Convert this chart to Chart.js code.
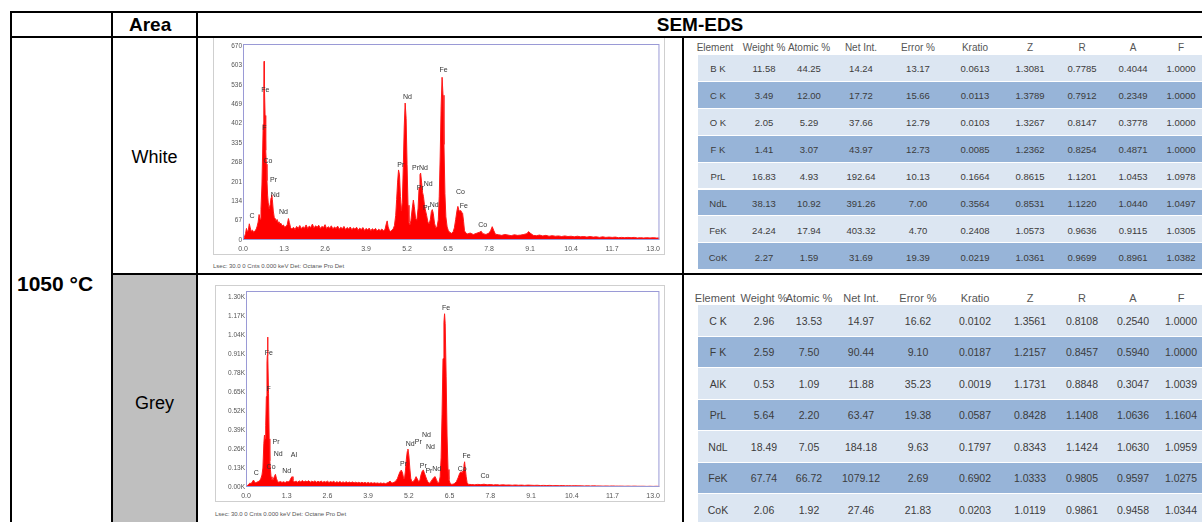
<!DOCTYPE html>
<html>
<head>
<meta charset="utf-8">
<script src="https://cdn.jsdelivr.net/npm/chart.js@4.4.1/dist/chart.umd.min.js"></script>
<style>
body { margin:0; width:1202px; height:522px; overflow:hidden; background:#fff; font-family:'Liberation Sans', Arial, sans-serif; position:relative; }
.ln { position:absolute; background:#000; z-index:5; }
.txt { position:absolute; white-space:nowrap; color:#000; }
.frame { position:absolute; border:1px solid #cfcfcf; box-sizing:border-box; background:#fff; }
canvas { position:absolute; z-index:2; }
.band { position:absolute; }
.cell { position:absolute; transform:translate(-50%,-50%); white-space:nowrap; color:#3c3c3c; z-index:3; }
.lsec { position:absolute; font-size:6px; color:#555; white-space:nowrap; }
</style>
</head>
<body>

<div class="ln" style="left:10px;top:11px;width:1192px;height:2px"></div>
<div class="ln" style="left:10px;top:36px;width:1192px;height:2px"></div>
<div class="ln" style="left:111px;top:273px;width:1091px;height:2px"></div>
<div class="ln" style="left:10px;top:11px;width:2px;height:511px"></div>
<div class="ln" style="left:111px;top:11px;width:2px;height:511px"></div>
<div class="ln" style="left:196px;top:11px;width:2px;height:511px"></div>
<div class="ln" style="left:682px;top:37px;width:2px;height:485px"></div>
<div style="position:absolute;left:113px;top:275px;width:83px;height:247px;background:#bfbfbf"></div>

<div class="txt" style="left:129px;top:14px;font:bold 19px/22px 'Liberation Sans', Arial">Area</div>
<div class="txt" style="left:198px;top:14px;width:1004px;text-align:center;font:bold 19px/22px 'Liberation Sans', Arial">SEM-EDS</div>
<div class="txt" style="left:113px;top:146px;width:83px;text-align:center;font:18px/22px 'Liberation Sans', Arial">White</div>
<div class="txt" style="left:113px;top:392px;width:83px;text-align:center;font:18px/22px 'Liberation Sans', Arial">Grey</div>
<div class="txt" style="left:17px;top:272px;font:bold 21px/24px 'Liberation Sans', Arial">1050 °C</div>

<div class="frame" style="left:213px;top:37px;width:452px;height:218px"></div>
<canvas id="whiteChart" width="452" height="217" style="left:213px;top:38px"></canvas>
<div class="lsec" style="left:213px;top:263px">Lsec: 30.0 0 Cnts 0.000 keV Det: Octane Pro Det</div>

<div class="frame" style="left:215px;top:285px;width:450px;height:217px"></div>
<canvas id="greyChart" width="450" height="217" style="left:215px;top:285px"></canvas>
<div class="lsec" style="left:215px;top:511px">Lsec: 30.0 0 Cnts 0.000 keV Det: Octane Pro Det</div>

<div id="tables"></div>

<script>
// EDS spectra, [keV, counts]
const whiteSpectrum = [
  [0.00,0],[0.04,8],[0.08,22],[0.11,40],[0.14,28],[0.17,35],[0.20,56],[0.23,42],[0.26,30],[0.30,34],
  [0.34,27],[0.38,31],[0.42,38],[0.45,48],[0.48,62],[0.51,88],[0.54,72],[0.57,105],[0.60,190],[0.62,290],
  [0.64,400],[0.66,505],[0.67,617],[0.68,520],[0.70,430],[0.72,310],[0.74,262],[0.76,205],[0.78,155],[0.80,128],
  [0.83,108],[0.86,122],[0.89,146],[0.91,156],[0.93,140],[0.96,100],[0.99,78],[1.02,74],[1.05,66],[1.08,71],
  [1.11,60],[1.14,63],[1.17,55],[1.20,58],[1.24,49],[1.28,52],[1.32,44],[1.36,47],[1.40,52],[1.44,74],
  [1.47,60],[1.51,42],[1.55,38],[1.60,44],[1.65,36],[1.70,47],[1.75,40],[1.80,50],[1.85,39],[1.90,46],
  [1.95,41],[2.00,52],[2.05,40],[2.10,48],[2.15,43],[2.20,55],[2.25,41],[2.30,49],[2.35,44],[2.40,51],
  [2.45,40],[2.50,47],[2.55,43],[2.60,53],[2.65,39],[2.70,46],[2.75,41],[2.80,49],[2.85,38],[2.90,45],
  [2.95,40],[3.00,48],[3.05,37],[3.10,44],[3.15,39],[3.20,47],[3.25,36],[3.30,43],[3.35,38],[3.40,45],
  [3.45,35],[3.50,42],[3.55,37],[3.60,44],[3.65,34],[3.70,41],[3.75,36],[3.80,43],[3.85,33],[3.90,40],
  [3.95,35],[4.00,41],[4.05,32],[4.10,39],[4.15,34],[4.20,40],[4.25,31],[4.30,37],[4.35,33],[4.40,38],
  [4.45,32],[4.50,36],[4.54,55],[4.57,66],[4.60,45],[4.64,33],[4.68,30],[4.72,34],[4.76,38],[4.80,50],
  [4.84,85],[4.87,140],[4.90,200],[4.93,242],[4.96,225],[4.99,150],[5.02,100],[5.05,130],[5.08,250],[5.11,390],
  [5.14,473],[5.17,420],[5.20,260],[5.23,120],[5.26,60],[5.29,52],[5.32,66],[5.36,105],[5.40,138],[5.43,115],
  [5.47,75],[5.51,68],[5.55,110],[5.58,180],[5.61,226],[5.63,231],[5.66,200],[5.69,165],[5.72,150],[5.75,122],
  [5.78,104],[5.82,85],[5.86,62],[5.90,55],[5.94,72],[5.97,98],[6.00,105],[6.03,92],[6.07,58],[6.11,42],
  [6.15,45],[6.19,70],[6.22,150],[6.25,290],[6.28,460],[6.31,562],[6.34,500],[6.37,330],[6.40,160],[6.43,80],
  [6.47,45],[6.51,32],[6.56,26],[6.61,23],[6.66,28],[6.70,42],[6.74,70],[6.78,100],[6.81,116],[6.84,104],
  [6.87,99],[6.90,102],[6.93,96],[6.96,92],[6.99,65],[7.02,32],[7.06,24],[7.12,21],[7.2,24],[7.3,19],
  [7.4,23],[7.5,27],[7.55,30],[7.6,22],[7.7,19],[7.8,24],[7.85,33],[7.9,46],[7.95,32],[8.0,20],
  [8.1,18],[8.2,16],[8.3,19],[8.4,17],[8.5,15],[8.6,18],[8.7,16],[8.8,17],[8.9,19],[9.0,22],
  [9.05,29],[9.1,24],[9.2,16],[9.3,15],[9.4,17],[9.5,14],[9.6,16],[9.7,13],[9.8,15],[9.9,13],
  [10.0,14],[10.1,12],[10.2,14],[10.3,12],[10.4,13],[10.5,11],[10.6,13],[10.7,11],[10.8,12],[10.9,10],
  [11.0,12],[11.1,10],[11.2,11],[11.3,9],[11.4,11],[11.5,9],[11.6,10],[11.7,9],[11.8,10],[11.9,8],
  [12.0,9],[12.1,8],[12.2,9],[12.3,8],[12.4,9],[12.5,7],[12.6,8],[12.7,7],[12.8,8],[12.9,7],
  [13.0,8],[13.1,7],[13.2,7]
];
const greySpectrum = [
  [0.00,0],[0.04,8],[0.08,18],[0.12,26],[0.16,24],[0.20,34],[0.24,48],[0.27,34],[0.31,29],[0.35,33],
  [0.39,37],[0.43,42],[0.47,55],[0.51,82],[0.54,130],[0.57,300],[0.59,356],[0.61,330],[0.63,420],[0.65,620],
  [0.67,850],[0.68,903],[0.69,1028],[0.70,900],[0.72,640],[0.74,330],[0.76,180],[0.78,120],[0.80,70],[0.83,48],
  [0.87,52],[0.91,74],[0.94,87],[0.97,60],[1.01,36],[1.05,33],[1.10,38],[1.15,31],[1.20,36],[1.25,30],
  [1.30,38],[1.35,34],[1.40,45],[1.44,62],[1.47,71],[1.50,45],[1.54,35],[1.60,40],[1.65,33],[1.70,42],
  [1.75,35],[1.80,44],[1.85,34],[1.90,41],[1.95,36],[2.00,43],[2.05,33],[2.10,40],[2.15,35],[2.20,42],
  [2.25,33],[2.30,39],[2.35,34],[2.40,41],[2.45,32],[2.50,38],[2.55,33],[2.60,40],[2.65,31],[2.70,37],
  [2.75,32],[2.80,39],[2.85,30],[2.90,36],[2.95,31],[3.00,37],[3.05,30],[3.10,35],[3.15,30],[3.20,36],
  [3.25,29],[3.30,34],[3.35,29],[3.40,35],[3.45,28],[3.50,33],[3.55,28],[3.60,32],[3.65,27],[3.70,32],
  [3.75,27],[3.80,31],[3.85,26],[3.90,31],[3.95,26],[4.00,30],[4.05,25],[4.10,29],[4.15,25],[4.20,28],
  [4.25,24],[4.30,28],[4.35,24],[4.40,27],[4.45,23],[4.50,27],[4.55,32],[4.60,41],[4.64,30],[4.69,28],
  [4.74,34],[4.79,42],[4.84,60],[4.88,85],[4.92,105],[4.96,116],[5.00,95],[5.03,62],[5.06,55],[5.09,110],
  [5.12,190],[5.15,245],[5.17,260],[5.20,215],[5.23,130],[5.26,60],[5.30,34],[5.34,38],[5.39,52],[5.43,71],
  [5.47,55],[5.51,38],[5.55,45],[5.59,85],[5.63,110],[5.66,116],[5.69,100],[5.73,75],[5.77,52],[5.81,33],
  [5.85,26],[5.90,35],[5.95,52],[6.00,66],[6.04,71],[6.08,50],[6.12,30],[6.16,28],[6.20,70],[6.23,200],
  [6.26,500],[6.29,880],[6.32,1130],[6.34,1188],[6.36,1120],[6.39,760],[6.42,350],[6.45,120],[6.48,50],[6.52,24],
  [6.57,18],[6.62,20],[6.67,26],[6.72,38],[6.77,62],[6.82,92],[6.86,105],[6.90,98],[6.93,112],[6.96,150],
  [6.98,173],[7.00,130],[7.03,70],[7.06,30],[7.10,18],[7.2,17],[7.3,15],[7.4,18],[7.5,16],[7.6,19],
  [7.7,15],[7.8,17],[7.9,14],[8.0,16],[8.1,13],[8.2,15],[8.3,13],[8.4,14],[8.5,12],[8.6,14],
  [8.7,12],[8.8,13],[8.9,11],[9.0,13],[9.1,12],[9.2,11],[9.3,12],[9.4,10],[9.5,11],[9.6,10],
  [9.7,11],[9.8,9],[9.9,10],[10.0,9],[10.1,10],[10.2,8],[10.3,9],[10.4,8],[10.5,9],[10.6,8],
  [10.7,8],[10.8,7],[10.9,8],[11.0,7],[11.1,8],[11.2,7],[11.3,7],[11.4,6],[11.5,7],[11.6,6],
  [11.7,7],[11.8,6],[11.9,6],[12.0,6],[12.1,5],[12.2,6],[12.3,5],[12.4,6],[12.5,5],[12.6,5],
  [12.7,5],[12.8,4],[12.9,5],[13.0,4],[13.1,5],[13.2,4]
];

const keVTicks = [0, 1.3, 2.6, 3.9, 5.2, 6.5, 7.8, 9.1, 10.4, 11.7, 13.0];
const keVLabels = ['0.0','1.3','2.6','3.9','5.2','6.5','7.8','9.1','10.4','11.7','13.0'];
const whiteYTicks = [0, 67, 134, 201, 268, 335, 402, 469, 536, 603, 670];
const whiteYLabels = ['0','67','134','201','268','335','402','469','536','603','670'];
const greyYTicks = [0, 130, 260, 390, 520, 650, 780, 910, 1040, 1170, 1300];
const greyYLabels = ['0.00K','0.13K','0.26K','0.39K','0.52K','0.65K','0.78K','0.91K','1.04K','1.17K','1.30K'];

// peak labels: [text, keV, counts]
const whiteNotes = [
  ['C',0.29,81],['Fe',0.71,519],['F',0.68,386],['Co',0.79,273],['Pr',0.97,207],['Nd',1.02,156],
  ['Nd',1.28,98],['Pr',5.0,259],['Nd',5.21,492],['PrNd',5.61,250],['Nd',5.87,194],['Pr',5.62,179],
  ['Pr',5.82,112],['Nd',6.06,121],['Fe',6.36,588],['Co',6.89,167],['Fe',7.0,118],['Co',7.6,52]
];
const greyNotes = [
  ['C',0.33,93],['Fe',0.73,919],['F',0.72,675],['Pr',0.96,306],['Nd',1.03,226],['Al',1.53,219],
  ['Co',0.8,135],['Nd',1.3,109],['Pr',5.03,157],['Nd',5.24,292],['Pr',5.5,306],['Nd',5.76,356],
  ['Nd',5.89,271],['Pr',5.66,146],['Pr',5.84,112],['Nd',6.09,123],['Fe',6.39,1229],['Co',6.9,123],
  ['Fe',7.04,214],['Co',7.63,78]
];

// quantification tables
const edsHeaders = ['Element','Weight %','Atomic %','Net Int.','Error %','Kratio','Z','R','A','F'];
const whiteRows = [
  ['B K','11.58','44.25','14.24','13.17','0.0613','1.3081','0.7785','0.4044','1.0000'],
  ['C K','3.49','12.00','17.72','15.66','0.0113','1.3789','0.7912','0.2349','1.0000'],
  ['O K','2.05','5.29','37.66','12.79','0.0103','1.3267','0.8147','0.3778','1.0000'],
  ['F K','1.41','3.07','43.97','12.73','0.0085','1.2362','0.8254','0.4871','1.0000'],
  ['PrL','16.83','4.93','192.64','10.13','0.1664','0.8615','1.1201','1.0453','1.0978'],
  ['NdL','38.13','10.92','391.26','7.00','0.3564','0.8531','1.1220','1.0440','1.0497'],
  ['FeK','24.24','17.94','403.32','4.70','0.2408','1.0573','0.9636','0.9115','1.0305'],
  ['CoK','2.27','1.59','31.69','19.39','0.0219','1.0361','0.9699','0.8961','1.0382']
];
const greyRows = [
  ['C K','2.96','13.53','14.97','16.62','0.0102','1.3561','0.8108','0.2540','1.0000'],
  ['F K','2.59','7.50','90.44','9.10','0.0187','1.2157','0.8457','0.5940','1.0000'],
  ['AlK','0.53','1.09','11.88','35.23','0.0019','1.1731','0.8848','0.3047','1.0039'],
  ['PrL','5.64','2.20','63.47','19.38','0.0587','0.8428','1.1408','1.0636','1.1604'],
  ['NdL','18.49','7.05','184.18','9.63','0.1797','0.8343','1.1424','1.0630','1.0959'],
  ['FeK','67.74','66.72','1079.12','2.69','0.6902','1.0333','0.9805','0.9597','1.0275'],
  ['CoK','2.06','1.92','27.46','21.83','0.0203','1.0119','0.9861','0.9458','1.0344']
];

var colX = [718, 764, 809, 861, 918, 975, 1030, 1082, 1133, 1181];

function drawTable(rows, headY, bandTop, bandH, headSize, cellSize) {
    var box = document.getElementById('tables');
    var html = '';
    edsHeaders.forEach(function(h, j) {
        html += '<div class="cell" style="left:' + (j == 0 ? colX[0] - 3 : colX[j]) + 'px;top:' + headY + 'px;font-size:' + headSize + 'px;color:#555">' + h + '</div>';
    });
    rows.forEach(function(r, i) {
        var top = bandTop + i * bandH;
        html += '<div class="band" style="left:698px;top:' + top + 'px;width:504px;height:' + (bandH - 1) + 'px;background:' + (i % 2 ? '#97b4d8' : '#dce6f2') + '"></div>';
        r.forEach(function(v, j) {
            html += '<div class="cell" style="left:' + colX[j] + 'px;top:' + (top + bandH / 2) + 'px;font-size:' + cellSize + 'px">' + v + '</div>';
        });
    });
    box.innerHTML += html;
}
drawTable(whiteRows, 47, 55, 26.9, 10, 9.5);
drawTable(greyRows, 298, 305, 31.5, 11, 10.5);

var framePlugin = {
    id: 'frame',
    afterDatasetsDraw: function(chart, args, opts) {
        var ctx = chart.ctx, a = chart.chartArea;
        ctx.save();
        ctx.strokeStyle = '#9a9ad6';
        ctx.lineWidth = 1;
        ctx.strokeRect(a.left + 0.5, a.top + 0.5, a.width - 1, a.height - 1);
        ctx.font = '7px "Liberation Sans", Arial';
        ctx.fillStyle = '#333';
        ctx.textAlign = 'center';
        ctx.textBaseline = 'middle';
        opts.notes.forEach(function(n) {
            ctx.fillText(n[0], chart.scales.x.getPixelForValue(n[1]), chart.scales.y.getPixelForValue(n[2]));
        });
        ctx.restore();
    }
};

function makeSpectrum(id, points, yMax, yTicks, yLabels, notes, yWidth) {
    var ctx = document.getElementById(id).getContext('2d');
    return new Chart(ctx, {
        type: 'line',
        data: {
            datasets: [{
                data: points.map(function(p) { return { x: p[0], y: p[1] }; }),
                borderColor: '#ff1a1a',
                backgroundColor: '#ff0000',
                borderWidth: 1,
                pointRadius: 0,
                fill: 'origin',
                tension: 0
            }]
        },
        options: {
            responsive: false,
            animation: false,
            layout: { padding: { left: 0, top: 6, right: 2, bottom: 0 } },
            plugins: { legend: { display: false }, tooltip: { enabled: false }, frame: { notes: notes } },
            scales: {
                x: {
                    type: 'linear', min: 0, max: 13.2,
                    afterBuildTicks: function(s) { s.ticks = keVTicks.map(function(v) { return { value: v }; }); },
                    afterFit: function(s) { s.height = 15; },
                    grid: { display: false, drawTicks: false },
                    border: { display: false },
                    ticks: { autoSkip: false, maxRotation: 0, padding: 5, color: '#555', font: { size: 7 },
                        callback: function(v, i) { return keVLabels[i]; } }
                },
                y: {
                    min: 0, max: yMax,
                    afterBuildTicks: function(s) { s.ticks = yTicks.map(function(v) { return { value: v }; }); },
                    afterFit: function(s) { s.width = yWidth; },
                    grid: { display: false, drawTicks: false },
                    border: { display: false },
                    ticks: { autoSkip: false, padding: 1, color: '#555', font: { size: 6.5 },
                        callback: function(v, i) { return yLabels[i]; } }
                }
            }
        },
        plugins: [framePlugin]
    });
}

makeSpectrum('whiteChart', whiteSpectrum, 677, whiteYTicks, whiteYLabels, whiteNotes, 30);
makeSpectrum('greyChart', greySpectrum, 1344, greyYTicks, greyYLabels, greyNotes, 31);
</script>
</body>
</html>
